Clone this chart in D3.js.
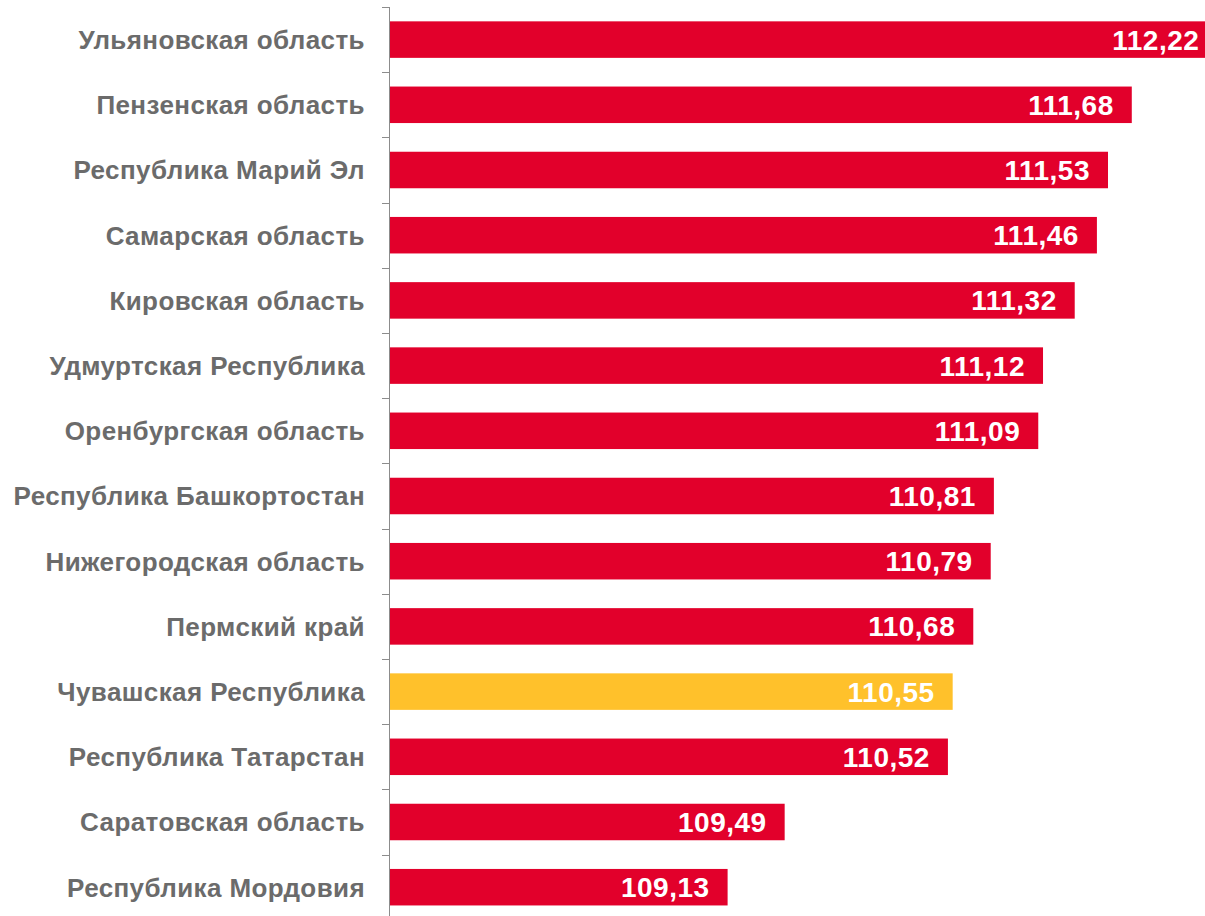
<!DOCTYPE html>
<html>
<head>
<meta charset="utf-8">
<script src="https://cdn.jsdelivr.net/npm/d3@7"></script>
<style>
  body { margin: 0; background: #fff; }
  svg { display: block; }
</style>
</head>
<body>
<svg id="chart"></svg>
<script>
// regions, top to bottom
const regions = [
  "Ульяновская область",
  "Пензенская область",
  "Республика Марий Эл",
  "Самарская область",
  "Кировская область",
  "Удмуртская Республика",
  "Оренбургская область",
  "Республика Башкортостан",
  "Нижегородская область",
  "Пермский край",
  "Чувашская Республика",
  "Республика Татарстан",
  "Саратовская область",
  "Республика Мордовия"
]
const values = [112.22, 111.68, 111.53, 111.46, 111.32, 111.12, 111.09, 110.81, 110.79, 110.68, 110.55, 110.52, 109.49, 109.13]
const highlight = ["Чувашская Республика"]

const width = 1205
const height = 916

let svg = d3.select("#chart").attr("width", width).attr("height", height)

let data = regions.map((r, i) => ({ region: r, value: values[i] }))

let x = d3.scaleLinear()
  .domain([107, 112.5])
  .range([390, 390 + 5.5 * 158.5])

let y = d3.scaleBand()
  .domain(regions)
  .range([7, 7 + 14 * 65.2])
  .paddingInner(0.44)
  .paddingOuter(0.22)

let ru = d3.formatLocale({ decimal: ",", thousands: " ", grouping: [3], currency: ["", ""] })
let fmt = ru.format(".2f")

// bars
svg.selectAll("rect.bar")
  .data(data)
  .join("rect")
  .classed("bar", true)
  .attr("x", x(107))
  .attr("y", d => y(d.region))
  .attr("width", d => x(d.value) - x(107))
  .attr("height", y.bandwidth())
  .style("fill", d => highlight.includes(d.region) ? "#FFC12B" : "#E2002B")

// value labels inside bar ends
svg.selectAll("text.val")
  .data(data)
  .join("text")
  .classed("val", true)
  .attr("x", d => x(d.value) - 18)
  .attr("y", d => y(d.region) + y.bandwidth() / 2)
  .attr("dy", "0.36em")
  .attr("text-anchor", "end")
  .style("font-family", "Liberation Sans, Arial, sans-serif")
  .style("font-weight", "bold")
  .style("font-size", "28px")
  .style("letter-spacing", "0.5px")
  .style("fill", "#fff")
  .text(d => fmt(d.value))

// category axis with ticks between categories
let axis = svg.append("g")
axis.append("line")
  .attr("x1", 389.5).attr("x2", 389.5)
  .attr("y1", 7).attr("y2", height)
  .style("stroke", "#8c8c8c")
  .style("stroke-width", 1)

let bounds = d3.range(regions.length + 1).map(i => 7 + i * y.step())
axis.selectAll("line.tick")
  .data(bounds)
  .join("line")
  .classed("tick", true)
  .attr("x1", 382).attr("x2", 389.5)
  .attr("y1", d => Math.round(d) + 0.5).attr("y2", d => Math.round(d) + 0.5)
  .style("stroke", "#8c8c8c")

axis.selectAll("text.cat")
  .data(regions)
  .join("text")
  .classed("cat", true)
  .attr("x", 365)
  .attr("y", d => y(d) + y.bandwidth() / 2)
  .attr("dy", "0.36em")
  .attr("text-anchor", "end")
  .style("font-family", "Liberation Sans, Arial, sans-serif")
  .style("font-weight", "bold")
  .style("font-size", "26px")
  .style("letter-spacing", "0.4px")
  .style("fill", "#6b6b6b")
  .text(d => d)
</script>
</body>
</html>
